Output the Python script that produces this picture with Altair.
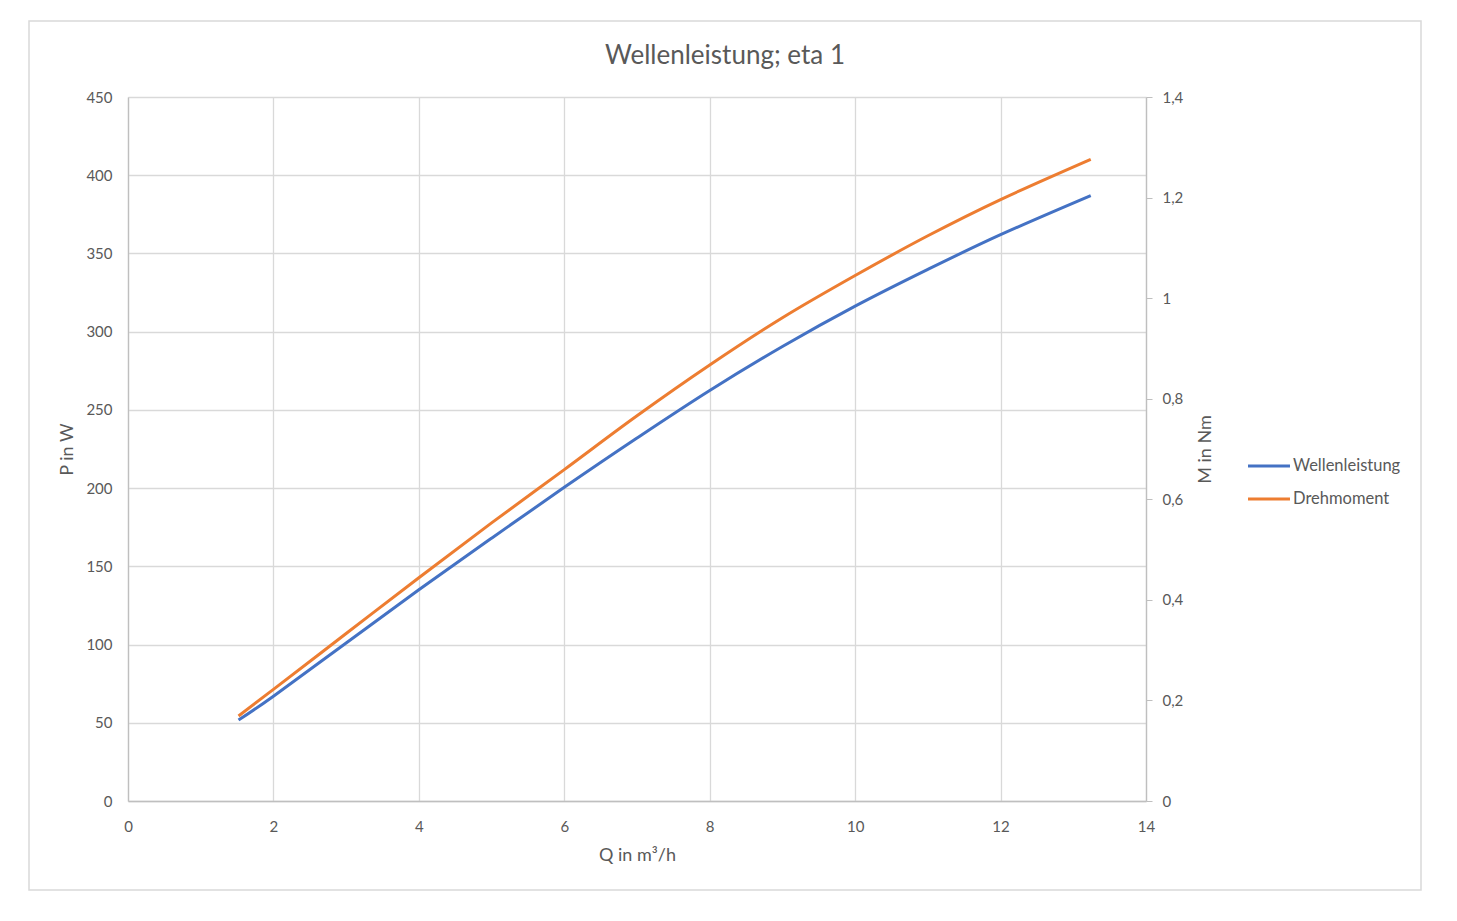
import altair as alt
import pandas as pd

# Flow rate Q in m³/h
q = [1.52, 2, 3, 4, 5, 6, 7, 8, 9, 10, 11, 12, 13.24]
# Wellenleistung P in W (left axis)
p_w = [51.7, 67, 101, 135, 168, 200.5, 232, 262.4, 290.5, 316.3, 339.8, 362, 387]
# Drehmoment M in Nm (right axis)
m_nm = [0.169, 0.222, 0.333, 0.444, 0.553, 0.659, 0.766, 0.867, 0.961, 1.045, 1.124, 1.196, 1.276]

series = ["Wellenleistung", "Drehmoment"]
colors = ["#4472C4", "#ED7D31"]

x_ticks = [0, 2, 4, 6, 8, 10, 12, 14]
p_ticks = [0, 50, 100, 150, 200, 250, 300, 350, 400, 450]
m_ticks = [0, 0.2, 0.4, 0.6, 0.8, 1.0, 1.2, 1.4]

df_p = pd.DataFrame({"Q": q, "P": p_w, "series": series[0]})
df_m = pd.DataFrame({"Q": q, "M": m_nm, "series": series[1]})

FONT = "Lato"
TXT = "#595959"

x_enc = alt.X(
    "Q:Q",
    scale=alt.Scale(domain=[0, 14], nice=False),
    axis=alt.Axis(
        title="Q in m³/h",
        values=x_ticks,
        ticks=False,
        labelFlush=False,
        labelPadding=18,
        titlePadding=12,
        grid=True,
    ),
)

color = alt.Color(
    "series:N",
    scale=alt.Scale(domain=series, range=colors),
    legend=alt.Legend(
        title=None,
        orient="none",
        legendX=1131,
        legendY=359,
        symbolType="M-2.5,0H2.5",
        symbolSize=282,
        symbolStrokeWidth=3,
        labelOffset=14,
        rowPadding=14,
        padding=0,
        labelFont=FONT,
        labelFontSize=16.5,
        labelColor=TXT,
    ),
)

frame = alt.Chart(pd.DataFrame({"f": [0]})).mark_rect(
    fillOpacity=0, stroke="#d9d9d9", strokeWidth=1.5
).encode(
    x=alt.value(-99), x2=alt.value(1293), y=alt.value(-76), y2=alt.value(793)
)

left = alt.Chart(df_p).mark_line(strokeWidth=3, interpolate="cardinal").encode(
    x=x_enc,
    y=alt.Y(
        "P:Q",
        scale=alt.Scale(domain=[0, 450], nice=False),
        axis=alt.Axis(
            title="P in W",
            values=p_ticks,
            ticks=False,
            labelFlush=False,
            labelPadding=16,
            titlePadding=9,
            grid=True,
        ),
    ),
    color=color,
)

right = alt.Chart(df_m).mark_line(strokeWidth=3, interpolate="cardinal").encode(
    x=x_enc,
    y=alt.Y(
        "M:Q",
        scale=alt.Scale(domain=[0, 1.4], nice=False),
        axis=alt.Axis(
            title="M in Nm",
            orient="right",
            values=m_ticks,
            ticks=True,
            tickSize=6,
            tickColor="#bfbfbf",
            labelFlush=False,
            labelPadding=10,
            titlePadding=32,
            titleAngle=270,
            grid=False,
            labelExpr="replace(format(datum.value, '.1~f'), '.', ',')",
        ),
    ),
    color=color,
)

chart = (
    alt.layer(frame, left, right)
    .resolve_scale(y="independent")
    .properties(
        width=1018,
        height=704,
        autosize=alt.AutoSizeParams(type="none"),
        padding={"left": 120, "top": 89, "right": 303, "bottom": 112},
        title=alt.TitleParams(
            "Wellenleistung; eta 1",
            font=FONT,
            fontSize=26,
            fontWeight="normal",
            color=TXT,
            anchor="middle",
            frame="group",
            offset=-49,
            dx=88,
        ),
    )
    .configure_axis(
        labelFont=FONT,
        labelFontSize=15,
        labelColor=TXT,
        titleFont=FONT,
        titleFontSize=18,
        titleFontWeight="normal",
        titleColor=TXT,
        domainColor="#bfbfbf",
        domainWidth=1.3,
        gridColor="#d9d9d9",
        gridWidth=1.3,
    )
    .configure_view(stroke=None)
)

chart.save("out.html", embed_options={"renderer": "svg", "actions": False})
